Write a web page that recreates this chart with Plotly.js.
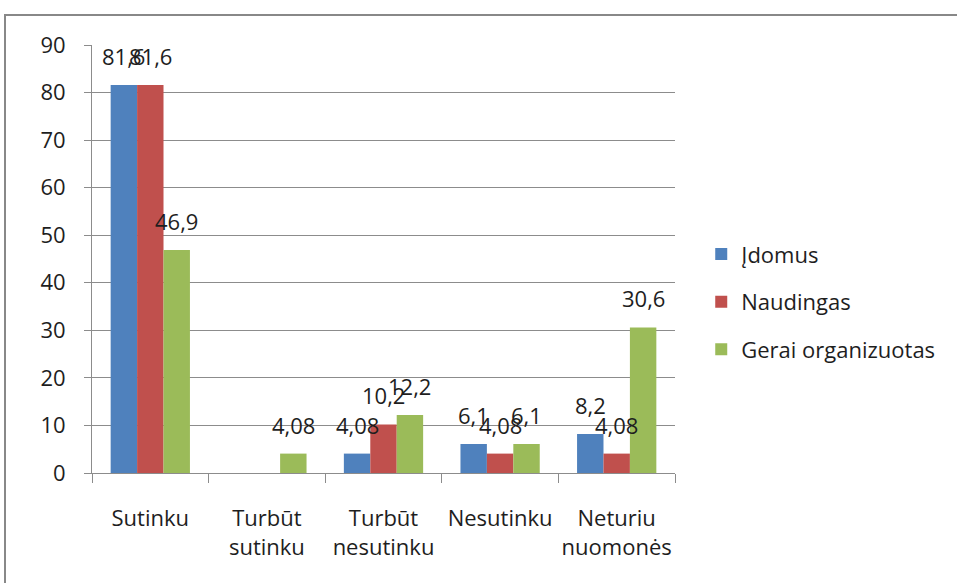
<!DOCTYPE html>
<html>
<head>
<meta charset="utf-8">
<script src="https://cdn.plot.ly/plotly-3.0.1.min.js"></script>
<style>html,body{margin:0;padding:0;background:#fff;}#chart{width:957px;height:583px;}</style>
</head>
<body>
<div id="chart"></div>
<script>
const categories = ["Sutinku", "Turbūt<br>sutinku", "Turbūt<br>nesutinku", "Nesutinku", "Neturiu<br>nuomonės"];
const seriesNames = ["Įdomus", "Naudingas", "Gerai organizuotas"];
const idomus = [81.6, null, 4.08, 6.1, 8.2];
const naudingas = [81.6, null, 10.2, 4.08, 4.08];
const geraiOrganizuotas = [46.9, 4.08, 12.2, 6.1, 30.6];
const yTicks = [0, 10, 20, 30, 40, 50, 60, 70, 80, 90];

const colors = ["#4F81BD", "#C0504D", "#9BBB59"];
const series = [idomus, naudingas, geraiOrganizuotas];
const FONT = "'Open Sans', Lato, sans-serif";
const bargap = 0.32;

const traces = series.map((vals, j) => ({
  type: "bar",
  name: seriesNames[j],
  x: categories,
  y: vals,
  marker: { color: colors[j], line: { width: 0 } },
  legendgroup: "g" + j,
  hoverinfo: "x+y+name"
}));

const w = (1 - bargap) / 3;
const annotations = [];
series.forEach((vals, j) => {
  vals.forEach((v, i) => {
    if (v === null) return;
    annotations.push({
      xref: "x", yref: "y",
      x: i + (j - 1) * w,
      y: v,
      text: String(v).replace(".", ","),
      showarrow: false,
      yanchor: "bottom",
      yshift: 12,
      font: { family: FONT, size: 22, color: "#1e1e1e" }
    });
  });
});

const layout = {
  width: 957, height: 583,
  margin: { l: 92, r: 282, t: 45, b: 110 },
  paper_bgcolor: "#fff", plot_bgcolor: "#fff",
  barmode: "group",
  bargap: bargap,
  bargroupgap: 0,
  font: { family: FONT, size: 22, color: "#1e1e1e" },
  showlegend: true,
  legend: {
    x: 1.045, y: 0.40, xanchor: "left", yanchor: "middle",
    traceorder: "grouped",
    tracegroupgap: 16,
    font: { family: FONT, size: 22, color: "#1e1e1e" },
    bgcolor: "rgba(0,0,0,0)"
  },
  xaxis: {
    type: "category",
    showgrid: false,
    showline: true, linecolor: "#8c8c8c", linewidth: 1,
    ticks: "outside", tickson: "boundaries", ticklen: 9, tickcolor: "#8c8c8c",
    tickangle: 0,
    ticklabelstandoff: 26,
    tickfont: { family: FONT, size: 22, color: "#1e1e1e" },
    zeroline: false
  },
  yaxis: {
    range: [0, 90],
    tickvals: yTicks,
    ticktext: yTicks.map(String),
    showgrid: true, gridcolor: "#8c8c8c", gridwidth: 1,
    showline: true, linecolor: "#8c8c8c", linewidth: 1,
    ticks: "outside", ticklen: 7, tickcolor: "#8c8c8c",
    ticklabelstandoff: 14,
    tickfont: { family: FONT, size: 22, color: "#1e1e1e" },
    zeroline: false
  },
  annotations: annotations,
  shapes: [{
    type: "rect", xref: "paper", yref: "paper",
    x0: (5 - 92) / 583, x1: 1.7,
    y0: -0.5, y1: (473 - 15) / 428,
    line: { color: "#888", width: 2 },
    fillcolor: "rgba(0,0,0,0)",
    layer: "below"
  }]
};

Plotly.newPlot("chart", traces, layout, { displayModeBar: false, staticPlot: true });
</script>
</body>
</html>
